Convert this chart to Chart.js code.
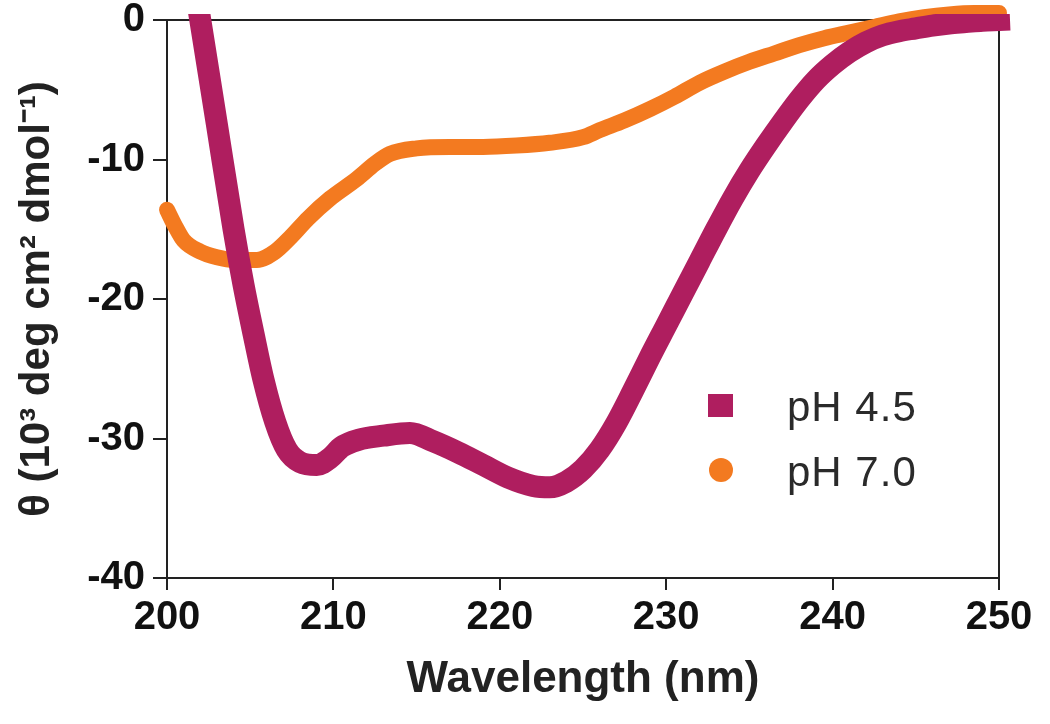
<!DOCTYPE html>
<html>
<head>
<meta charset="utf-8">
<title>CD spectra</title>
<script src="https://cdn.jsdelivr.net/npm/chart.js@4.4.1/dist/chart.umd.min.js"></script>
<style>
    body { margin: 0; background: #fff; }
    #wrap { position: relative; width: 1050px; height: 724px; }
    .leg { position: absolute; left: 787px; font: 42px "Liberation Sans", Arial, sans-serif; color: #2a2a2a; letter-spacing: 1px; line-height: 1; }
    .mark { position: absolute; }
</style>
</head>
<body>
<div id="wrap">
    <canvas id="cdChart"></canvas>
    <div class="mark" style="left:708px; top:394px; width:25px; height:23px; background:#AF1E5F;"></div>
    <div class="leg" style="top:386px;">pH 4.5</div>
    <div class="mark" style="left:709px; top:458px; width:24px; height:24px; border-radius:50%; background:#F37A20;"></div>
    <div class="leg" style="top:451px;">pH 7.0</div>
</div>
<script>
// pH 4.5 (magenta)
const wl45 = [202, 203, 204, 204.6, 205.2, 205.8, 206.5, 207.2, 208, 209, 209.8, 210.5, 211.5, 213, 214.6,
    216, 217.5, 219, 220.5, 222, 223, 224, 225, 226, 227, 228, 229, 230, 231, 232, 233, 234, 235, 236,
    237, 238, 239, 240, 241, 242, 243, 244, 245, 246, 247, 248, 249, 250];
const theta45 = [0, -7.5, -15, -19, -22.5, -25.8, -28.8, -30.8, -31.7, -31.9, -31.4, -30.6, -30.1, -29.8, -29.6,
    -30.2, -31.0, -31.9, -32.8, -33.4, -33.5, -33.1, -32.2, -30.8, -28.9, -26.6, -24.2, -21.9, -19.6, -17.3, -15.0, -12.8, -10.8, -9.0,
    -7.3, -5.7, -4.3, -3.2, -2.3, -1.6, -1.1, -0.8, -0.6, -0.4, -0.25, -0.15, -0.05, 0];

// pH 7.0 (orange)
const wl70 = [200, 200.5, 201, 202, 203, 204, 205.4, 206.5, 207.4, 208.5, 209.8, 211.4, 212.5, 213.4, 215,
    217, 219, 221, 223, 225, 226, 227.5, 229, 230.5, 232, 233.5, 235, 236.5, 238, 239.5, 241, 242.5, 244,
    245.5, 247, 248.5, 250];
const theta70 = [-13.6, -14.8, -15.8, -16.6, -17.0, -17.2, -17.2, -16.6, -15.6, -14.2, -12.8, -11.4, -10.3, -9.6, -9.2,
    -9.1, -9.1, -9.0, -8.8, -8.4, -7.9, -7.2, -6.4, -5.5, -4.5, -3.7, -3.0, -2.4, -1.8, -1.3, -0.9, -0.5, -0.1,
    0.2, 0.4, 0.5, 0.5];

const xTicks = [200, 210, 220, 230, 240, 250];
const yTicks = [0, -10, -20, -30, -40];

function pairs(xs, ys) {
    return xs.map((x, i) => ({ x: x, y: ys[i] }));
}

// top and right lines of the frame, under the curves
const frame = {
    id: 'frame',
    beforeDatasetsDraw(chart) {
        const a = chart.chartArea;
        const ctx = chart.ctx;
        ctx.save();
        ctx.strokeStyle = '#222';
        ctx.lineWidth = 2;
        ctx.beginPath();
        ctx.moveTo(a.left - 14, a.top);
        ctx.lineTo(a.right, a.top);
        ctx.lineTo(a.right, a.bottom);
        ctx.stroke();
        ctx.restore();
    }
};

Chart.defaults.font.family = '"Liberation Sans", Arial, sans-serif';
Chart.defaults.color = '#111';

const ctx = document.getElementById('cdChart').getContext('2d');
new Chart(ctx, {
    type: 'line',
    data: {
        datasets: [{
            label: 'pH 4.5',
            data: pairs(wl45, theta45),
            borderColor: '#AF1E5F',
            borderWidth: 22,
            borderCapStyle: 'square',
            pointRadius: 0,
            cubicInterpolationMode: 'monotone',
            clip: { left: 20, top: 6, right: 20, bottom: 20 }
        }, {
            label: 'pH 7.0',
            data: pairs(wl70, theta70),
            borderColor: '#F37A20',
            borderWidth: 16,
            borderCapStyle: 'round',
            borderJoinStyle: 'round',
            pointRadius: 0,
            cubicInterpolationMode: 'monotone',
            clip: false
        }]
    },
    options: {
        responsive: true,
        maintainAspectRatio: false,
        animation: false,
        layout: { padding: { top: 20, right: 51, bottom: 0, left: 0 } },
        plugins: {
            legend: { display: false },
            tooltip: { enabled: false }
        },
        scales: {
            x: {
                type: 'linear',
                min: 200,
                max: 250,
                afterBuildTicks: s => { s.ticks = xTicks.map(v => ({ value: v })); },
                afterFit: s => { s.height = 146; },
                grid: { drawOnChartArea: false, tickLength: 12, lineWidth: 2, color: '#222' },
                border: { width: 2, color: '#222' },
                ticks: { font: { size: 40, weight: 'bold' }, padding: 4, maxRotation: 0 },
                title: {
                    display: true,
                    text: 'Wavelength (nm)',
                    font: { size: 44, weight: 'bold', lineHeight: 1.2 },
                    color: '#222',
                    padding: { top: 0, bottom: 18 }
                }
            },
            y: {
                min: -40,
                max: 0,
                afterBuildTicks: s => { s.ticks = yTicks.map(v => ({ value: v })); },
                afterFit: s => { s.width = 167; s.paddingTop = 0; s.paddingBottom = 0; },
                grid: { drawOnChartArea: false, tickLength: 14, lineWidth: 2, color: '#222' },
                border: { width: 2, color: '#222' },
                ticks: { font: { size: 40, weight: 'bold' }, padding: 8 },
                title: {
                    display: true,
                    text: 'θ (10³ deg cm² dmol⁻¹)',
                    font: { size: 42, weight: 'bold', lineHeight: 1.2 },
                    color: '#222',
                    padding: { top: 12, bottom: 0 }
                }
            }
        }
    },
    plugins: [frame]
});
</script>
</body>
</html>
